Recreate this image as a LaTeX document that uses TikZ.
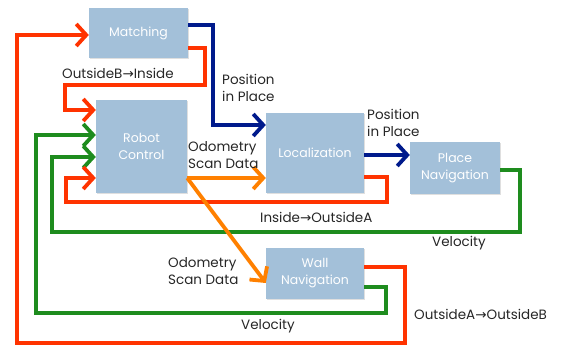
\documentclass[tikz,border=0pt]{standalone}
\usepackage{fontspec}
\setmainfont{Poppins}
\newfontfamily\arrowfont{DejaVu Sans}
\usetikzlibrary{arrows.meta,shadows}
\definecolor{boxfill}{HTML}{A3C0D9}
\definecolor{cred}{HTML}{FF3300}
\definecolor{cblue}{HTML}{001A8C}
\definecolor{cgreen}{HTML}{1E8C1E}
\definecolor{corange}{HTML}{FF8000}
\newcommand{\rarr}{{\arrowfont\char"2192}}
\tikzset{
  module/.style={rectangle, fill=boxfill, inner sep=0pt, text=white, align=center,
    font=\fontsize{12.5}{17}\selectfont, drop shadow={opacity=0.25, shadow xshift=1pt, shadow yshift=-1pt}},
  link/.style={line width=3.8pt, line join=miter, -{Straight Barb[length=10pt,width=22pt,line width=3.8pt]}},
  lbl/.style={font=\fontsize{13.5}{17}\selectfont, align=left, inner sep=0pt, text=black!85}
}
\begin{document}
\begin{tikzpicture}[x=1pt,y=-1pt]
\useasboundingbox (0,0) rectangle (563,347);
\node[module, minimum width=99pt, minimum height=50pt] (match) at (138.5,33) {Matching};
\node[module, minimum width=91pt, minimum height=93pt] (robot) at (141.5,146.5) {Robot\\Control};
\node[module, minimum width=98pt, minimum height=80pt] (loc) at (315,153) {Localization};
\node[module, minimum width=90pt, minimum height=52pt] (place) at (455,168) {Place\\Navigation};
\node[module, minimum width=98pt, minimum height=51pt] (wall) at (315,273.5) {Wall\\Navigation};
% red big loop
\draw[link, cred] ([yshift=6.5pt]wall.east) -- (405,267) -- (405,343) -- (17,343) -- (17,35) -- ([yshift=-2pt]match.west);
% green wall -> robot
\draw[link, cgreen] ([yshift=-13.5pt]wall.east) -- (386,287) -- (386,313) -- (36,313) -- (36,135) -- ([yshift=11.5pt]robot.west);
% green place -> robot
\draw[link, cgreen] ([yshift=-2pt]place.east) -- (520,170) -- (520,232) -- (52,232) -- (52,157) -- ([yshift=-10.5pt]robot.west);
% red loc -> robot
\draw[link, cred] ([yshift=-24pt]loc.east) -- (387,177) -- (387,202) -- (66,202) -- (66,178) -- ([yshift=-31.5pt]robot.west);
% red match -> robot
\draw[link, cred] ([yshift=-15pt]match.east) -- (205,48) -- (205,85) -- (65,85) -- (65,110) -- ([yshift=36.5pt]robot.west);
% blue match -> loc
\draw[link, cblue] ([yshift=8pt]match.east) -- (213,25) -- (213,125) -- ([yshift=28pt]loc.west);
% blue loc -> place
\draw[link, cblue] ([yshift=-2pt]loc.east) -- ([yshift=13pt]place.west);
% orange
\draw[link, corange] ([yshift=-31.5pt]robot.east) -- ([yshift=-25pt]loc.west);
\draw[link, corange] ([yshift=-31.5pt]robot.east) -- ([yshift=-9.5pt]wall.west);
% labels
\node[lbl, anchor=west] (l1) at (62,73) {OutsideB\rarr Inside};
\node[lbl, anchor=west] (l2) at (222,88) {Position\\in Place};
\node[lbl, anchor=west] (l3) at (367,123) {Position\\in Place};
\node[lbl, anchor=west] (l4) at (188,155) {Odometry\\Scan Data};
\node[lbl, anchor=west] (l5) at (260,217) {Inside\rarr OutsideA};
\node[lbl, anchor=west] (l6) at (432,243) {Velocity};
\node[lbl, anchor=west] (l7) at (168,271) {Odometry\\Scan Data};
\node[lbl, anchor=west] (l8) at (241,326) {Velocity};
\node[lbl, anchor=west] (l9) at (414,314) {OutsideA\rarr OutsideB};
\end{tikzpicture}
\end{document}
